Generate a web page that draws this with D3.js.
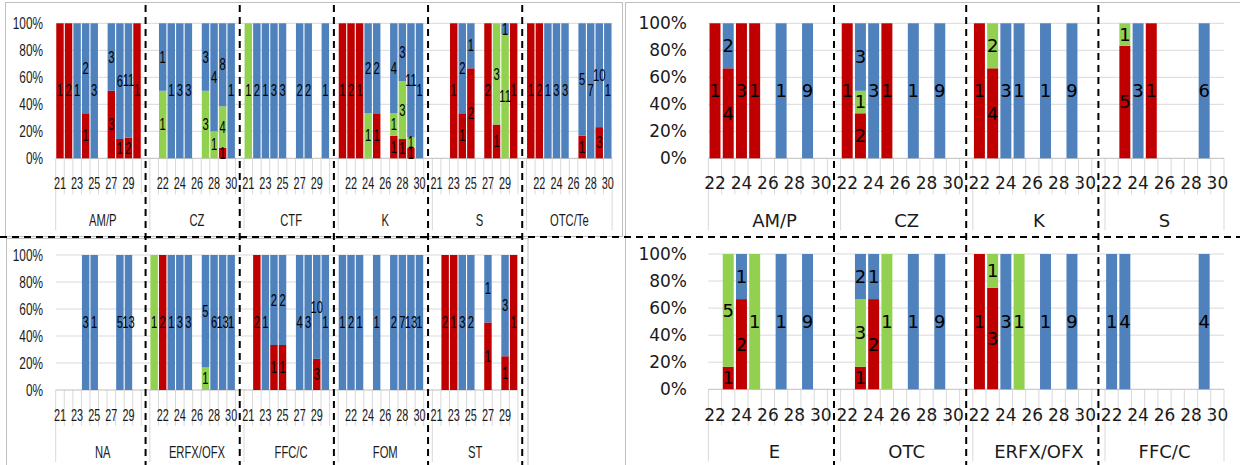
<!DOCTYPE html>
<html>
<head>
<meta charset="utf-8">
<script src="https://cdn.jsdelivr.net/npm/d3@7"></script>
<style>
  body { margin: 0; background: #fff; }
  svg { display: block; }
</style>
</head>
<body>
<div id="container"></div>
<script>
// category labels
var leftYears  = ["21","22","23","24","25","26","27","28","29","30"];
var rightYears = ["22","23","24","25","26","27","28","29","30"];

var ltGroups = ["AM/P","CZ","CTF","K","S","OTC/Te"];
var lbGroups = ["NA","ERFX/OFX","FFC/C","FOM","ST"];
var rtGroups = ["AM/P","CZ","K","S"];
var rbGroups = ["E","OTC","ERFX/OFX","FFC/C"];

// counts per group, one value per year (red = bottom, green = middle, blue = top)
var ltRed = [
  [1,2,0,1,0,0,3,1,2,1],
  [0,0,0,0,0,0,0,0,1,0],
  [0,0,0,0,0,0,0,0,0,0],
  [1,2,1,0,1,0,1,1,1,0],
  [0,0,1,1,2,0,2,1,0,1],
  [1,2,0,0,0,0,1,0,3,0]
];
var ltGreen = [
  [0,0,0,0,0,0,0,0,0,0],
  [0,1,0,0,0,0,3,1,4,0],
  [1,0,0,0,0,0,0,0,0,0],
  [0,0,0,1,0,0,1,3,1,0],
  [0,0,0,0,0,0,0,3,11,0],
  [0,0,0,0,0,0,0,0,0,0]
];
var ltBlue = [
  [0,0,1,2,3,0,3,6,11,0],
  [0,1,1,3,3,0,3,4,8,1],
  [0,2,1,3,3,0,2,2,0,1],
  [0,0,0,2,2,0,4,3,11,1],
  [0,0,0,2,1,0,0,0,1,0],
  [0,0,1,3,3,0,5,7,10,1]
];

var lbRed = [
  [0,0,0,0,0,0,0,0,0,0],
  [0,2,0,0,0,0,0,0,0,0],
  [0,2,0,1,1,0,0,0,3,0],
  [0,0,0,0,0,0,0,0,0,0],
  [0,2,1,0,0,0,1,0,1,1]
];
var lbGreen = [
  [0,0,0,0,0,0,0,0,0,0],
  [1,0,0,0,0,0,1,0,0,0],
  [0,0,0,0,0,0,0,0,0,0],
  [0,0,0,0,0,0,0,0,0,0],
  [0,0,0,0,0,0,0,0,0,0]
];
var lbBlue = [
  [0,0,0,3,1,0,0,5,13,0],
  [0,0,1,3,3,0,5,6,13,1],
  [0,0,1,2,2,0,4,3,10,1],
  [1,2,1,0,1,0,2,7,13,1],
  [0,0,0,3,2,0,1,0,3,0]
];

var rtRed = [
  [1,4,3,1,0,0,0,0,0],
  [1,2,0,1,0,0,0,0,0],
  [1,4,0,0,0,0,0,0,0],
  [0,5,0,1,0,0,0,0,0]
];
var rtGreen = [
  [0,0,0,0,0,0,0,0,0],
  [0,1,0,0,0,0,0,0,0],
  [0,2,0,0,0,0,0,0,0],
  [0,1,0,0,0,0,0,0,0]
];
var rtBlue = [
  [0,2,0,0,0,1,0,9,0],
  [0,3,3,0,0,1,0,9,0],
  [0,0,3,1,0,1,0,9,0],
  [0,0,3,0,0,0,0,6,0]
];

var rbRed = [
  [0,1,2,0,0,0,0,0,0],
  [0,1,2,0,0,0,0,0,0],
  [1,3,0,0,0,0,0,0,0],
  [0,0,0,0,0,0,0,0,0]
];
var rbGreen = [
  [0,5,0,1,0,0,0,0,0],
  [0,3,0,1,0,0,0,0,0],
  [0,1,0,1,0,0,0,0,0],
  [0,0,0,0,0,0,0,0,0]
];
var rbBlue = [
  [0,0,1,0,0,1,0,9,0],
  [0,2,1,0,0,1,0,9,0],
  [0,0,3,0,0,1,0,9,0],
  [1,4,0,0,0,0,0,4,0]
];

var colors = ["#C00000", "#92D050", "#4F81BD"];
var yTicks = [0, 0.2, 0.4, 0.6, 0.8, 1];

var svg = d3.select("#container").append("svg")
    .attr("width", 1240)
    .attr("height", 465);

svg.append("rect").attr("width", 1240).attr("height", 465).attr("fill", "#fff");

//chart frames
var frames = svg.append("g").attr("fill", "none").attr("stroke", "#bfbfbf");
frames.append("rect").attr("x", 5.5).attr("y", 2.5).attr("width", 617).attr("height", 234);
frames.append("rect").attr("x", 6.5).attr("y", 238.5).attr("width", 521.5).attr("height", 240);
frames.append("rect").attr("x", 625.5).attr("y", 2.5).attr("width", 620).attr("height", 480);

//text helper, sx squeezes the glyphs horizontally
function label(g, x, y, str, o) {
  g.append("text")
      .attr("transform", "translate(" + x + "," + y + ") scale(" + o.sx + ",1)")
      .attr("text-anchor", o.anchor || "middle")
      .attr("dy", "0.35em")
      .style("font-family", o.font)
      .style("font-size", o.size + "px")
      .attr("fill", o.fill || "#000")
      .text(str);
}

function drawChart(c) {
  var g = svg.append("g");

  //slot keys: each group's years, then a blank slot between groups
  var slots = [];
  c.groups.forEach(function(grp, gi) {
    c.years.forEach(function(yr, yi) {
      slots.push({key: grp + "|" + yr, group: gi, year: yi, blank: false});
    });
    if (gi < c.groups.length - 1) slots.push({key: grp + "|blank", group: gi, blank: true});
  });

  var x = d3.scaleBand()
      .domain(slots.map(function(s) { return s.key; }))
      .range([c.x0, c.x1])
      .paddingInner(c.pad)
      .paddingOuter(c.pad / 2);
  var step = x.step();

  var y = d3.scaleLinear().domain([0, 1]).range([c.y0, c.yTop]);

  //gridlines
  g.append("g").selectAll("line")
    .data(yTicks.slice(1))
    .enter().append("line")
      .attr("x1", c.x0).attr("x2", c.x1)
      .attr("y1", function(d) { return y(d); })
      .attr("y2", function(d) { return y(d); })
      .attr("stroke", "#d9d9d9");

  //y axis labels
  var ya = g.append("g");
  yTicks.forEach(function(t) {
    label(ya, c.yLabelX, y(t), d3.format(".0%")(t), {font: c.font, size: c.tick[0], sx: c.tick[1], anchor: "end", fill: "#1a1a1a"});
  });

  //category ticks
  var ticks = g.append("g").attr("stroke", "#d9d9d9");
  d3.range(slots.length + 1).forEach(function(i) {
    var xx = c.x0 + i * step;
    var long = i === 0 || i === slots.length || (slots[i - 1] && slots[i - 1].blank);
    ticks.append("line")
        .attr("x1", xx).attr("x2", xx)
        .attr("y1", c.y0).attr("y2", c.y0 + (long ? 72 : 36));
  });

  //zero line
  g.append("line")
      .attr("x1", c.x0).attr("x2", c.x1)
      .attr("y1", c.y0).attr("y2", c.y0)
      .attr("stroke", "#bfbfbf");

  //stacked bars
  var stack = [];
  slots.forEach(function(s) {
    if (s.blank) return;
    var vals = [c.red[s.group][s.year], c.green[s.group][s.year], c.blue[s.group][s.year]];
    var total = d3.sum(vals);
    if (!total) return;
    var acc = 0;
    vals.forEach(function(v, k) {
      if (!v) return;
      stack.push({key: s.key, v: v, k: k, lo: acc / total, hi: (acc + v) / total});
      acc += v;
    });
  });

  g.append("g").selectAll("rect")
    .data(stack)
    .enter().append("rect")
      .attr("x", function(d) { return x(d.key); })
      .attr("width", x.bandwidth())
      .attr("y", function(d) { return y(d.hi); })
      .attr("height", function(d) { return y(d.lo) - y(d.hi); })
      .attr("fill", function(d) { return colors[d.k]; });

  //data labels
  var dl = g.append("g");
  stack.forEach(function(d) {
    label(dl, x(d.key) + x.bandwidth() / 2, y((d.lo + d.hi) / 2), d.v, {font: c.font, size: c.data[0], sx: c.data[1]});
  });

  //year labels, every other slot
  var cl = g.append("g");
  slots.forEach(function(s, i) {
    if (s.blank || i % 2) return;
    label(cl, x(s.key) + x.bandwidth() / 2, c.y0 + c.numDy, c.years[s.year], {font: c.font, size: c.cat[0], sx: c.cat[1], fill: "#1a1a1a"});
  });

  //group labels
  c.groups.forEach(function(grp, gi) {
    var idx = slots.filter(function(s) { return s.group === gi; });
    var a = c.x0 + slots.indexOf(idx[0]) * step;
    var b = a + idx.length * step;
    label(cl, (a + b) / 2, c.y0 + c.grpDy, grp, {font: c.font, size: c.grp[0], sx: c.grp[1], fill: "#1a1a1a"});
  });

  //x positions of the blank slots for the separators
  return slots.filter(function(s) { return s.blank; }).map(function(s) { return x(s.key) + x.bandwidth() / 2; });
}

var leftFont = "'Liberation Sans', Arial, sans-serif";
var rightFont = "'DejaVu Sans', Verdana, sans-serif";

// [font size, horizontal squeeze]
var leftText = {tick: [16, 0.74], data: [16, 0.7], cat: [17, 0.64], grp: [17, 0.66]};
var rightText = {tick: [17, 1], data: [18, 1], cat: [17, 1], grp: [18, 1]};

var sepLeft = drawChart(Object.assign({
  groups: ltGroups, years: leftYears, red: ltRed, green: ltGreen, blue: ltBlue,
  x0: 55.7, x1: 612.1, yTop: 23.3, y0: 158.3, pad: 0.13,
  yLabelX: 43, numDy: 24.5, grpDy: 62, font: leftFont
}, leftText));
drawChart(Object.assign({
  groups: lbGroups, years: leftYears, red: lbRed, green: lbGreen, blue: lbBlue,
  x0: 55.7, x1: 517.9, yTop: 255, y0: 390, pad: 0.13,
  yLabelX: 43, numDy: 25, grpDy: 62, font: leftFont
}, leftText));
var sepRight = drawChart(Object.assign({
  groups: rtGroups, years: rightYears, red: rtRed, green: rtGreen, blue: rtBlue,
  x0: 708.4, x1: 1224, yTop: 23.3, y0: 158.3, pad: 0.17,
  yLabelX: 687, numDy: 24.5, grpDy: 62, font: rightFont
}, rightText));
drawChart(Object.assign({
  groups: rbGroups, years: rightYears, red: rbRed, green: rbGreen, blue: rbBlue,
  x0: 708.4, x1: 1224, yTop: 254, y0: 389.3, pad: 0.17,
  yLabelX: 687, numDy: 25.5, grpDy: 62.5, font: rightFont
}, rightText));

//dashed separators over both rows
var dash = svg.append("g")
    .attr("stroke", "#000")
    .attr("stroke-width", 2)
    .attr("stroke-dasharray", "7,5");

sepLeft.concat(sepRight).forEach(function(xx) {
  dash.append("line").attr("x1", xx).attr("x2", xx).attr("y1", 5).attr("y2", 465);
});
dash.append("line").attr("x1", 0).attr("x2", 1240).attr("y1", 237).attr("y2", 237);
</script>
</body>
</html>
